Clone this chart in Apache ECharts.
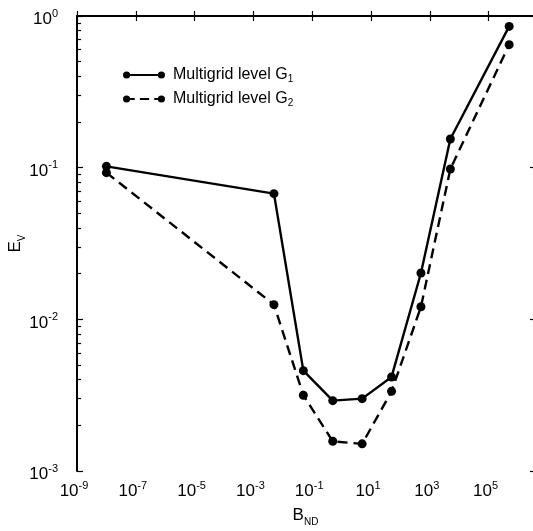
<!DOCTYPE html>
<html>
<head>
<meta charset="utf-8">
<script src="https://cdn.jsdelivr.net/npm/echarts@6/dist/echarts.min.js"></script>
<style>html,body{margin:0;padding:0;background:#fff;}#c{width:533px;height:531px;}</style>
</head>
<body>
<div id="c"></div>
<script>
// Data
var bnd = [1e-8, 5e-3, 5e-2, 5e-1, 5, 50, 500, 5000, 5e5];
var evG1 = [0.102, 0.0674, 0.00459, 0.00291, 0.0030, 0.00417, 0.0202, 0.1546, 0.854];
var evG2 = [0.0927, 0.0125, 0.00316, 0.00157, 0.00151, 0.00335, 0.0121, 0.098, 0.647];
var xTickValues = [1e-9, 1e-7, 1e-5, 1e-3, 1e-1, 1e1, 1e3, 1e5];
var yTickValues = [1e-3, 1e-2, 1e-1, 1];
var yMinorExp = [];
[-3, -2, -1].forEach(function (d) { for (var k = 2; k <= 9; k++) yMinorExp.push(d + Math.log10(k)); });

var FONT = '"Liberation Sans", Arial, Helvetica, sans-serif';
function pow10(v) {
  var e = Math.round(Math.log10(v));
  return '{b|10}{s|' + e + '}';
}
function powRich() {
  return {
    b: { fontSize: 17, fontFamily: FONT, color: '#000', lineHeight: 20, verticalAlign: 'bottom' },
    s: { fontSize: 11, fontFamily: FONT, color: '#000', lineHeight: 20, verticalAlign: 'top' }
  };
}

var solidIcon = 'path://M0.5,4A3.5,3.5,0,1,0,7.5,4A3.5,3.5,0,1,0,0.5,4Z M7.5,3.1L34.5,3.1L34.5,4.9L7.5,4.9Z M34.5,4A3.5,3.5,0,1,0,41.5,4A3.5,3.5,0,1,0,34.5,4Z';
var dashIcon = 'path://M0.5,4A3.5,3.5,0,1,0,7.5,4A3.5,3.5,0,1,0,0.5,4Z M7.5,3.1L12,3.1L12,4.9L7.5,4.9Z M17,3.1L26,3.1L26,4.9L17,4.9Z M31,3.1L34.5,3.1L34.5,4.9L31,4.9Z M34.5,4A3.5,3.5,0,1,0,41.5,4A3.5,3.5,0,1,0,34.5,4Z';

var chart = echarts.init(document.getElementById('c'), null, { renderer: 'canvas' });
var XMIN = 1e-9, XMAX = 3.5e6;
var tickStyle = { color: '#000', width: 1.2 };
var lineStyleAxis = { color: '#000', width: 2 };
chart.setOption({
  backgroundColor: '#fff',
  animation: false,
  grid: { left: 77, right: -1, top: 16, bottom: 60, containLabel: false, outerBoundsMode: 'none' },
  legend: {
    orient: 'vertical', left: 118, top: 62, itemWidth: 42, itemHeight: 8, itemGap: 7,
    itemStyle: { borderWidth: 0 },
    data: [{ name: 'G1', icon: solidIcon }, { name: 'G2', icon: dashIcon }],
    formatter: function (n) { return '{t|Multigrid level G}{s|' + n.slice(1) + '}'; },
    textStyle: {
      color: '#000', padding: [0, 0, 0, 3],
      rich: {
        t: { fontSize: 16, fontFamily: FONT, color: '#000', lineHeight: 18, verticalAlign: 'middle' },
        s: { fontSize: 10, fontFamily: FONT, color: '#000', lineHeight: 18, verticalAlign: 'bottom' }
      }
    }
  },
  xAxis: [{
    type: 'log', min: XMIN, max: XMAX, position: 'bottom',
    name: '{b|B}{s|ND}', nameLocation: 'middle', nameGap: 36, nameMoveOverlap: false,
    nameTextStyle: { rich: {
      b: { fontSize: 17, fontFamily: FONT, color: '#000', lineHeight: 20, verticalAlign: 'top' },
      s: { fontSize: 10, fontFamily: FONT, color: '#000', lineHeight: 20, verticalAlign: 'bottom' } } },
    axisLine: { show: true, lineStyle: lineStyleAxis },
    axisTick: { show: true, inside: true, length: 5, customValues: xTickValues, lineStyle: tickStyle },
    axisLabel: { show: true, margin: 9, padding: [0, 6, 0, 0], customValues: xTickValues, formatter: pow10, rich: powRich() },
    splitLine: { show: false }, minorTick: { show: false }
  }, {
    type: 'log', min: XMIN, max: XMAX, position: 'top',
    axisLine: { show: true, lineStyle: lineStyleAxis },
    axisTick: { show: true, inside: true, length: 5, customValues: xTickValues, lineStyle: tickStyle },
    axisLabel: { show: false }, splitLine: { show: false }
  }],
  yAxis: [{
    type: 'log', min: 1e-3, max: 1, position: 'left',
    name: '{b|E}{s|V}', nameLocation: 'middle', nameGap: 50, nameRotate: 90, nameMoveOverlap: false,
    nameTextStyle: { rich: {
      b: { fontSize: 17, fontFamily: FONT, color: '#000', lineHeight: 20, verticalAlign: 'top' },
      s: { fontSize: 10, fontFamily: FONT, color: '#000', lineHeight: 20, verticalAlign: 'bottom' } } },
    axisLine: { show: true, lineStyle: lineStyleAxis },
    axisTick: { show: true, inside: true, length: 6, customValues: yTickValues, lineStyle: tickStyle },
    axisLabel: { show: true, margin: 19, padding: [4, 0, 0, 0], customValues: yTickValues, formatter: pow10, rich: powRich() },
    splitLine: { show: false }
  }, {
    // minor tick decoration (exponent space)
    type: 'value', min: -3, max: 0, position: 'left', offset: 0,
    axisLine: { show: false },
    axisTick: { show: true, inside: true, length: 4, customValues: yMinorExp, lineStyle: tickStyle },
    axisLabel: { show: false }, splitLine: { show: false }
  }, {
    type: 'log', min: 1e-3, max: 1, position: 'right',
    axisLine: { show: true, lineStyle: lineStyleAxis },
    axisTick: { show: true, inside: true, length: 4, customValues: yTickValues, lineStyle: tickStyle },
    axisLabel: { show: false }, splitLine: { show: false }
  }],
  series: [{
    name: 'G1', type: 'line', xAxisIndex: 0, yAxisIndex: 0,
    data: bnd.map(function (x, i) { return [x, evG1[i]]; }),
    symbol: 'circle', symbolSize: 9, showAllSymbol: true,
    itemStyle: { color: '#000', borderWidth: 0 },
    lineStyle: { color: '#000', width: 2.4, type: 'solid' }
  }, {
    name: 'G2', type: 'line', xAxisIndex: 0, yAxisIndex: 0,
    data: bnd.map(function (x, i) { return [x, evG2[i]]; }),
    symbol: 'circle', symbolSize: 9, showAllSymbol: true,
    itemStyle: { color: '#000', borderWidth: 0 },
    lineStyle: { color: '#000', width: 2.4, type: [10, 6] }
  }]
});
</script>
</body>
</html>
